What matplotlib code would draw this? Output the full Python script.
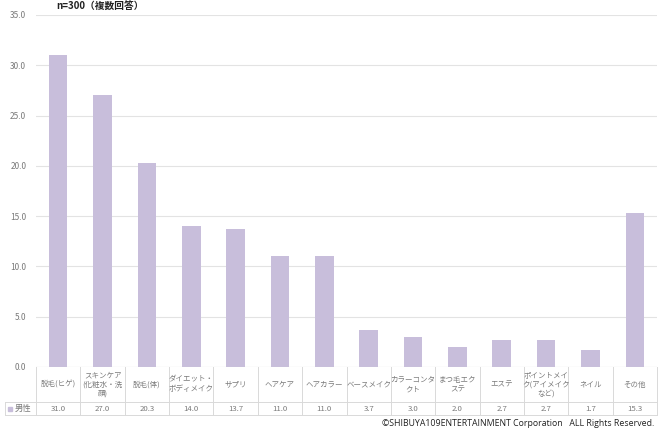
import matplotlib.pyplot as plt
from matplotlib.patches import Rectangle

plt.rcParams['font.family'] = ['Noto Sans CJK JP', 'DejaVu Sans']

# ---- data ----
categories = [
    "脱毛(ヒゲ)", "スキンケア\n(化粧水・洗\n顔)", "脱毛(体)", "ダイエット・\nボディメイク",
    "サプリ", "ヘアケア", "ヘアカラー", "ベースメイク", "カラーコンタ\nクト",
    "まつ毛エク\nステ", "エステ", "ポイントメイ\nク(アイメイク\nなど)", "ネイル", "その他",
]
male = [31.0, 27.0, 20.3, 14.0, 13.7, 11.0, 11.0, 3.7, 3.0, 2.0, 2.7, 2.7, 1.7, 15.3]
series_name = "男性"
yticks = [0, 5, 10, 15, 20, 25, 30, 35]
title = "n=300（複数回答）"
credit = "©SHIBUYA109ENTERTAINMENT Corporation   ALL Rights Reserved."

bar_color = "#c8bedb"
grid_color = "#e3e3e3"
text_color = "#7a7a7a"
line_color = "#d9d9d9"

W, H = 658, 432
fig = plt.figure(figsize=(W / 100, H / 100), dpi=100)

# main plot area (pixel geometry)
x0, x1 = 36, 657
ytop, ybot = 15, 367
ax = fig.add_axes([x0 / W, 1 - ybot / H, (x1 - x0) / W, (ybot - ytop) / H])
n = len(categories)
xs = list(range(n))
ax.bar(xs, male, width=0.42, color=bar_color, zorder=2)
ax.set_xlim(-0.5, n - 0.5)
ax.set_ylim(0, 35)
ax.set_yticks(yticks)
ax.set_yticklabels([f"{v:.1f}" for v in yticks], fontsize=6, color=text_color)
ax.tick_params(axis="y", length=0, pad=7)
ax.tick_params(axis="x", length=0, labelbottom=False)
ax.grid(axis="y", color=grid_color, linewidth=0.8, zorder=0)
for s in ax.spines.values():
    s.set_visible(False)
ax.axhline(0, color=line_color, linewidth=0.8, zorder=3)

# data table below the axes
row1_bot, row2_bot = 402, 415
tab = fig.add_axes([x0 / W, 1 - row2_bot / H, (x1 - x0) / W, (row2_bot - ybot) / H])
tab.set_xlim(-0.5, n - 0.5)
tab.set_ylim(row2_bot, ybot)
tab.axis("off")
lw = 0.7
# horizontal lines
tab.plot([-0.5, n - 0.5], [row1_bot, row1_bot], color=line_color, lw=lw, clip_on=False)
tab.plot([-0.5, n - 0.5], [row2_bot, row2_bot], color=line_color, lw=lw, clip_on=False)
# left part of second row (legend cell)
left_x = -0.5 - (x0 - 5) / ((x1 - x0) / n)
tab.plot([left_x, -0.5], [row1_bot, row1_bot], color=line_color, lw=lw, clip_on=False)
tab.plot([left_x, -0.5], [row2_bot, row2_bot], color=line_color, lw=lw, clip_on=False)
tab.plot([left_x, left_x], [row1_bot, row2_bot], color=line_color, lw=lw, clip_on=False)
for i in range(n + 1):
    tab.plot([i - 0.5, i - 0.5], [ybot, row2_bot], color=line_color, lw=lw, clip_on=False)

for i, (cat, v) in enumerate(zip(categories, male)):
    tab.text(i, (ybot + row1_bot) / 2, cat, ha="center", va="center",
             fontsize=5.4, color=text_color, linespacing=1.25)
    tab.text(i, (row1_bot + row2_bot) / 2, f"{v:.1f}", ha="center", va="center",
             fontsize=5.6, color=text_color)

cell_w = -0.5 - left_x
tab.add_patch(Rectangle((left_x + cell_w * 0.1, 406.5), cell_w * 0.12, 4,
                        color=bar_color, clip_on=False))
tab.text(left_x + cell_w * 0.3, (row1_bot + row2_bot) / 2, series_name, ha="left",
         va="center", fontsize=6, color=text_color)

fig.text(0.085, 0.999, title, ha="left", va="top", fontsize=7, fontweight="bold",
         color="#222222")
fig.text(0.995, 1 - 424 / H, credit, ha="right", va="center", fontsize=6.3,
         color="#222222", family=["Open Sans", "DejaVu Sans"])

fig.savefig("out.png", dpi=100)
